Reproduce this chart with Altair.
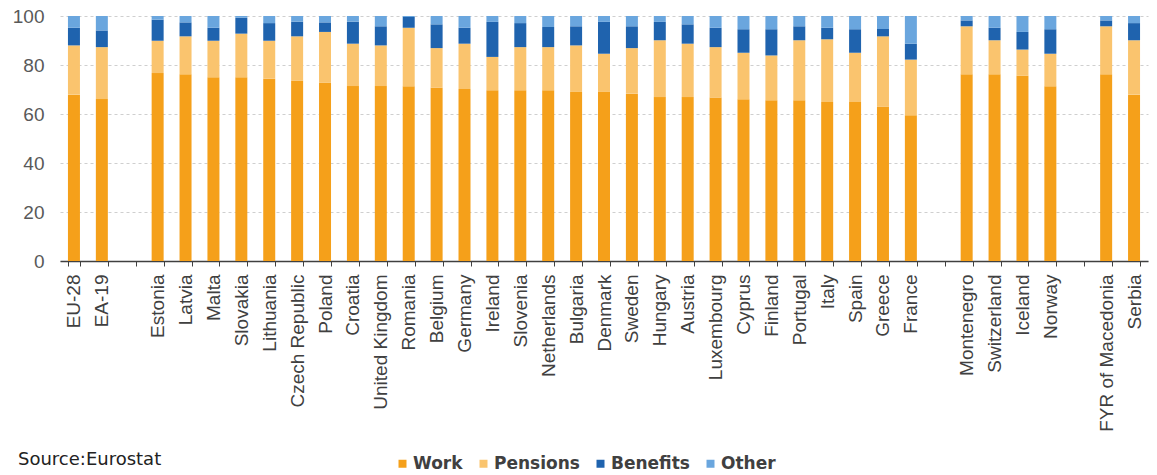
import altair as alt
import pandas as pd

countries = ["EU-28", "EA-19", " ", "Estonia", "Latvia", "Malta", "Slovakia", "Lithuania",
             "Czech Republic", "Poland", "Croatia", "United Kingdom", "Romania", "Belgium",
             "Germany", "Ireland", "Slovenia", "Netherlands", "Bulgaria", "Denmark", "Sweden",
             "Hungary", "Austria", "Luxembourg", "Cyprus", "Finland", "Portugal", "Italy",
             "Spain", "Greece", "France", "  ", "Montenegro", "Switzerland", "Iceland",
             "Norway", "   ", "FYR of Macedonia", "Serbia"]

blank = [" ", "  ", "   "]

work = [67.9, 66.1, None, 76.7, 76.2, 75.0, 75.0, 74.4, 73.7, 72.7, 71.4, 71.4, 71.3, 70.7,
        70.2, 69.7, 69.7, 69.7, 69.0, 69.0, 68.3, 66.9, 66.9, 66.7, 66.0, 65.6, 65.6, 64.9,
        64.9, 63.1, 59.5, None, 76.2, 76.2, 75.6, 71.3, None, 76.2, 67.9]
pensions = [20.1, 21.2, None, 13.2, 15.5, 14.9, 17.8, 15.5, 18.0, 20.8, 17.3, 16.6, 23.9, 16.2,
            18.5, 13.6, 17.6, 17.6, 19.0, 15.6, 18.6, 23.2, 21.8, 20.6, 19.0, 18.3, 24.5, 25.6,
            20.1, 28.6, 22.7, None, 19.6, 13.9, 10.7, 13.3, None, 19.6, 22.2]
benefits = [7.2, 6.8, None, 8.6, 5.7, 5.3, 6.5, 7.2, 6.0, 3.9, 9.0, 7.8, 4.4, 9.7,
            6.5, 14.3, 9.8, 8.2, 7.8, 13.0, 8.9, 7.5, 7.9, 7.9, 9.6, 10.7, 5.7, 4.7,
            9.6, 3.0, 6.5, None, 2.4, 5.1, 7.2, 10.0, None, 2.4, 7.0]
other = [4.8, 5.9, None, 1.5, 2.6, 4.8, 0.7, 2.9, 2.3, 2.6, 2.3, 4.2, 0.4, 3.4,
         4.8, 2.4, 2.9, 4.5, 4.2, 2.4, 4.2, 2.4, 3.4, 4.8, 5.4, 5.4, 4.2, 4.8,
         5.4, 5.3, 11.3, None, 1.8, 4.8, 6.5, 5.4, None, 1.8, 2.9]

series = ["Work", "Pensions", "Benefits", "Other"]
colors = ["#F5A01A", "#FAC46E", "#1F63AE", "#6AA6DE"]

rows = []
for i, c in enumerate(countries):
    if c in blank:
        continue
    for k, (s, vals) in enumerate(zip(series, [work, pensions, benefits, other])):
        rows.append({"country": c, "series": s, "value": vals[i], "order": k})
df = pd.DataFrame(rows)

bars = alt.Chart(df).mark_bar().encode(
    x=alt.X("country:N", sort=countries,
            scale=alt.Scale(domain=countries, paddingInner=0.57, paddingOuter=0.285),
            axis=alt.Axis(title=None, labelAngle=-90, labelAlign="right", labelBaseline="middle",
                          labelFont="Liberation Sans", labelFontSize=19, labelColor="#404040",
                          labelPadding=8, tickBand="extent", tickSize=5, tickColor="#404040",
                          domainColor="#404040", domainWidth=1.5, grid=False, labelOverlap=False)),
    y=alt.Y("value:Q", stack="zero",
            scale=alt.Scale(domain=[0, 100], nice=False),
            axis=alt.Axis(title=None, values=[0, 20, 40, 60, 80, 100], labelFont="Liberation Sans",
                          labelFontSize=19, labelColor="#595959", labelPadding=16,
                          ticks=False, domain=False, grid=True, gridColor="#cfcfcf",
                          gridDash=[3, 3], gridWidth=1)),
    color=alt.Color("series:N", scale=alt.Scale(domain=series, range=colors),
                    legend=alt.Legend(title=None, orient="none", direction="horizontal",
                                      legendX=334, legendY=439, symbolType="square",
                                      symbolSize=64, symbolStrokeWidth=0, labelFont="DejaVu Sans",
                                      labelFontSize=17, labelFontWeight="bold",
                                      labelColor="#404040", columnPadding=12, labelOffset=2,
                                      padding=0)),
    order=alt.Order("order:Q"),
)

src = alt.Chart(pd.DataFrame({"t": ["Source:Eurostat"]})).mark_text(
    align="left", baseline="alphabetic", font="DejaVu Sans", fontSize=18, color="#222222"
).encode(x=alt.value(-42), y=alt.value(449), text="t:N")

chart = alt.layer(bars, src).properties(
    width=1088, height=245,
    autosize=alt.AutoSizeParams(type="none"),
    padding={"left": 60, "top": 16, "right": 9, "bottom": 214},
).configure_view(stroke=None)

chart.save("out.html", embed_options={"renderer": "svg", "actions": False})
